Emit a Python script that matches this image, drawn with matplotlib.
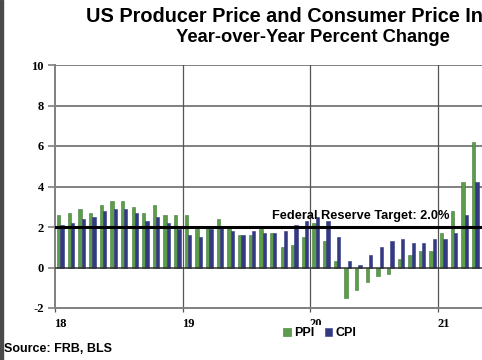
import numpy as np
import matplotlib.pyplot as plt
from matplotlib.patches import Rectangle

# Year-over-year % change, monthly, Jan 2018 - Apr 2021
ppi = [2.6, 2.7, 2.9, 2.7, 3.1, 3.3, 3.3, 3.0, 2.7, 3.1, 2.6, 2.6,
       2.6, 1.9, 2.0, 2.4, 2.0, 1.6, 1.6, 1.9, 1.7, 1.0, 1.1, 1.5,
       2.2, 1.3, 0.3, -1.5, -1.1, -0.7, -0.4, -0.3, 0.4, 0.6, 0.8, 0.8,
       1.7, 2.8, 4.2, 6.2]
cpi = [2.1, 2.2, 2.4, 2.5, 2.8, 2.9, 2.9, 2.7, 2.3, 2.5, 2.2, 1.9,
       1.6, 1.5, 1.9, 2.0, 1.8, 1.6, 1.8, 1.7, 1.7, 1.8, 2.1, 2.3,
       2.5, 2.3, 1.5, 0.3, 0.1, 0.6, 1.0, 1.3, 1.4, 1.2, 1.2, 1.4,
       1.4, 1.7, 2.6, 4.2]
year_labels = ['18', '19', '20', '21']
target = 2.0

ppi_color = '#5b9d4b'
cpi_color = '#343a82'
serif = 'Liberation Serif'
sans = 'Liberation Sans'

fig = plt.figure(figsize=(4.82, 3.6), dpi=100)
# axes runs past the right edge of the picture (reference is cropped)
ax = fig.add_axes([55 / 482, 52 / 360, 431 / 482, 243 / 360])

x = np.arange(len(ppi))
w = 0.31
ax.bar(x - w / 2, ppi, width=w, color=ppi_color, edgecolor='#3f7a35', linewidth=0.4, label='PPI', zorder=3)
ax.bar(x + w / 2, cpi, width=w, color=cpi_color, edgecolor=cpi_color, linewidth=0.4, label='CPI', zorder=3)

ax.set_xlim(-0.5, 40.0)
ax.set_ylim(-2, 10)

# horizontal grid
for yy in [4, 6, 8, 10]:
    ax.axhline(yy, color='#808080', linewidth=1.4, zorder=1)
ax.axhline(0, color='#303030', linewidth=1.1, zorder=4)
ax.axhline(target, color='black', linewidth=2.2, zorder=5)

# year separators
for xx in [11.5, 23.5, 35.5]:
    ax.axvline(xx, color='#555555', linewidth=0.9, zorder=1)

ax.set_yticks([-2, 0, 2, 4, 6, 8, 10])
ax.set_yticklabels(['-2', '0', '2', '4', '6', '8', '10'], fontfamily=serif, fontweight='bold', fontsize=9)
ax.tick_params(axis='y', length=5, width=1.2, color='#808080', pad=3)

ax.set_xticks([-0.5, 11.5, 23.5, 35.5])
ax.set_xticklabels([])
ax.tick_params(axis='x', which='major', length=3, width=0.9, color='#555555')
ax.set_xticks([0, 12, 24, 36], minor=True)
ax.set_xticklabels(year_labels, minor=True, fontfamily=serif, fontweight='bold', fontsize=9)
ax.tick_params(axis='x', which='minor', length=0, pad=7)

for side in ['top', 'right']:
    ax.spines[side].set_visible(False)
ax.spines['left'].set_color('#808080')
ax.spines['left'].set_linewidth(1.4)
ax.spines['bottom'].set_color('#808080')
ax.spines['bottom'].set_linewidth(1.4)

ax.text(19.9, 2.25, 'Federal Reserve Target: 2.0%', fontfamily=sans, fontweight='bold',
        fontsize=9.2, va='bottom', ha='left', zorder=6)

# titles
fig.text(86 / 482, 1 - 17 / 360, 'US Producer Price and Consumer Price Index', ha='left', va='center',
         fontfamily=sans, fontweight='bold', fontsize=14.3)
fig.text(313 / 482, 1 - 38 / 360, 'Year-over-Year Percent Change', ha='center', va='center',
         fontfamily=sans, fontweight='bold', fontsize=13.2)

fig.text(4 / 482, 1 - 349 / 360, 'Source: FRB, BLS', ha='left', va='center',
         fontfamily=sans, fontweight='bold', fontsize=9)

# legend sits partly over the "20" label, as in the original
leg = fig.legend(loc='center', bbox_to_anchor=(320 / 482, 1 - 333 / 360), ncol=2, frameon=True,
                 prop={'family': sans, 'weight': 'bold', 'size': 9},
                 handlelength=0.6, handleheight=0.6, handletextpad=0.3, columnspacing=0.8,
                 borderpad=0.15, fancybox=False)
leg.get_frame().set_facecolor('white')
leg.get_frame().set_edgecolor('none')
leg.get_frame().set_alpha(1)

# dark strip along the left edge
fig.patches.append(Rectangle((0, 0), 3 / 482, 1, transform=fig.transFigure, color='#4a4a4a', zorder=10))

fig.savefig('out.png', dpi=100)
